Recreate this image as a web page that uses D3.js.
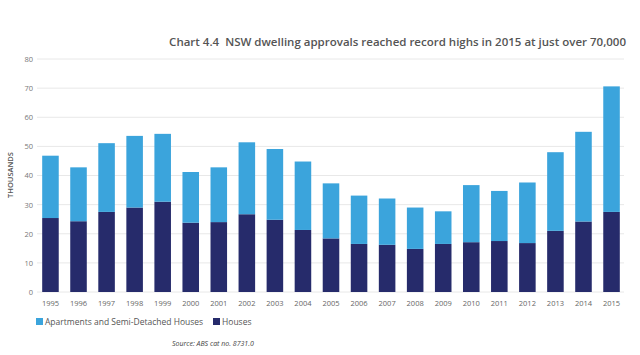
<!DOCTYPE html>
<html><head><meta charset="utf-8">
<script src="https://cdn.jsdelivr.net/npm/d3@7"></script>
<style>body{margin:0;background:#fff;}svg{display:block;font-family:"Open Sans",Lato,sans-serif;}</style>
</head><body>
<script>
const years = ["1995","1996","1997","1998","1999","2000","2001","2002","2003","2004","2005","2006","2007","2008","2009","2010","2011","2012","2013","2014","2015"];
const houses = [25.4,24.3,27.5,29.0,31.0,23.8,24.0,26.7,24.8,21.3,18.4,16.5,16.2,14.8,16.5,17.1,17.5,16.8,21.0,24.2,27.5];
const totals = [46.8,42.8,51.1,53.6,54.3,41.2,42.8,51.4,49.1,44.8,37.3,33.1,32.1,29.0,27.7,36.7,34.7,37.6,48.0,55.0,70.6];
const apartments = totals.map((t,i)=>+(t-houses[i]).toFixed(1));
const yTicks = [0,10,20,30,40,50,60,70,80];
const seriesNames = ["Apartments and Semi-Detached Houses","Houses"];
const colors = {"Apartments and Semi-Detached Houses":"#3ba4dc","Houses":"#262b6b"};

const W=640,H=355;
const svg=d3.select("body").append("svg").attr("width",W).attr("height",H);
const x=d3.scaleBand().domain(years).range([37,625]).paddingInner(0.41).paddingOuter(0.185);
const y=d3.scaleLinear().domain([0,80]).range([292,59]);

svg.append("text").attr("x",626).attr("y",46).attr("text-anchor","end")
  .attr("font-size",11.5).attr("font-weight",600).attr("fill","#555")
  .style("white-space","pre")
  .text("Chart 4.4  NSW dwelling approvals reached record highs in 2015 at just over 70,000");

// grid
svg.append("g").selectAll("line").data(yTicks).join("line")
  .attr("x1",37).attr("x2",624).attr("y1",d=>y(d)).attr("y2",d=>y(d))
  .attr("stroke","#e8e8e8").attr("stroke-width",1);

// y axis labels
const ya=svg.append("g").attr("transform","translate(33,0)")
  .call(d3.axisLeft(y).tickValues(yTicks).tickSize(0).tickPadding(0));
ya.select(".domain").remove();
ya.selectAll("text").attr("font-size",7.5).attr("fill","#777").attr("font-family","'Open Sans',sans-serif");

svg.append("text").attr("transform","translate(13,175) rotate(-90)").attr("text-anchor","middle")
  .attr("font-size",7.5).attr("font-weight",600).attr("fill","#555").text("THOUSANDS");

const stackData = years.map((yr,i)=>({year:yr,"Houses":houses[i],"Apartments and Semi-Detached Houses":apartments[i]}));
const stack=d3.stack().keys(["Houses","Apartments and Semi-Detached Houses"])(stackData);
svg.append("g").selectAll("g").data(stack).join("g").attr("fill",d=>colors[d.key])
  .selectAll("rect").data(d=>d).join("rect")
  .attr("x",d=>x(d.data.year)).attr("width",x.bandwidth())
  .attr("y",d=>y(d[1])).attr("height",d=>y(d[0])-y(d[1]));

// x axis
const xa=svg.append("g").attr("transform","translate(0,301)")
  .call(d3.axisBottom(x).tickSize(0).tickPadding(0));
xa.select(".domain").remove();
xa.selectAll("text").attr("font-size",7.5).attr("fill","#666").attr("dy","0.71em").attr("font-family","'Open Sans',sans-serif");

// legend
const leg=svg.append("g").attr("transform","translate(36,322)");
const lx=[0,177];
seriesNames.forEach((n,i)=>{
  const g=leg.append("g").attr("transform",`translate(${lx[i]},0)`);
  g.append("rect").attr("x",0).attr("y",-4).attr("width",7).attr("height",7).attr("fill",colors[n]);
  g.append("text").attr("x",9).attr("y",3).attr("font-size",8.5).attr("fill","#555").text(n);
});

svg.append("text").attr("x",172).attr("y",346).attr("font-size",7).attr("font-style","italic")
  .attr("fill","#444").text("Source: ABS cat no. 8731.0");
</script>
</body></html>
